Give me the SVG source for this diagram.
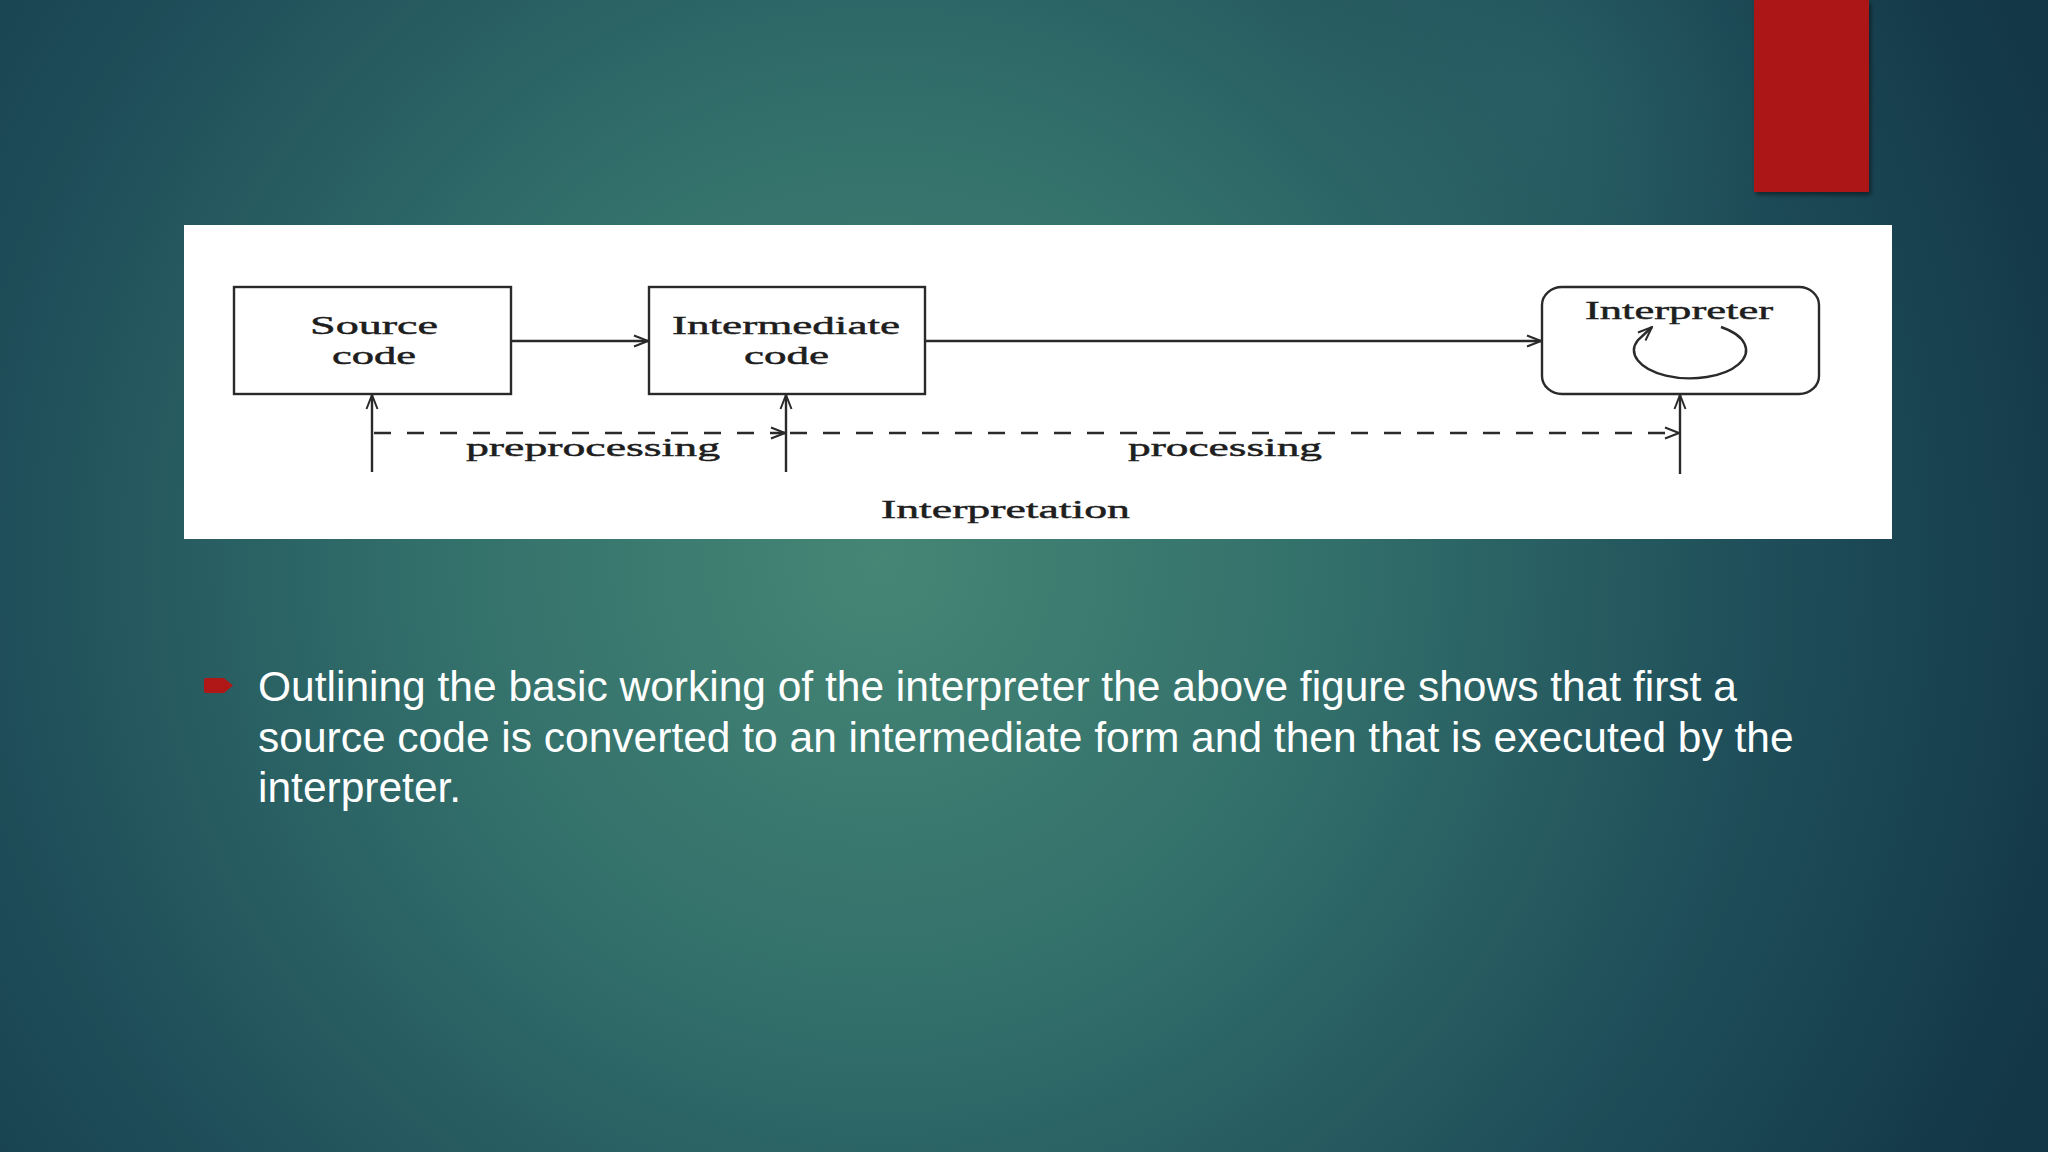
<svg xmlns="http://www.w3.org/2000/svg" width="2048" height="1152" viewBox="0 0 2048 1152">
  <defs>
    <radialGradient id="bg" cx="880" cy="560" r="1250" gradientUnits="userSpaceOnUse">
      <stop offset="0" stop-color="#458675"/>
      <stop offset="0.35" stop-color="#33706b"/>
      <stop offset="0.7" stop-color="#1f4f5a"/>
      <stop offset="1" stop-color="#133747"/>
    </radialGradient>
    <radialGradient id="glow" cx="1540" cy="90" r="260" gradientUnits="userSpaceOnUse">
      <stop offset="0" stop-color="#2f6a6c" stop-opacity="0.45"/>
      <stop offset="1" stop-color="#2f6a6c" stop-opacity="0"/>
    </radialGradient>
    <filter id="shadow" x="-20%" y="-10%" width="140%" height="130%">
      <feDropShadow dx="2" dy="3" stdDeviation="2" flood-color="#000" flood-opacity="0.45"/>
    </filter>
    <marker id="arr" markerWidth="16" markerHeight="14" refX="15" refY="7" orient="auto" markerUnits="userSpaceOnUse">
      <path d="M1,1.5 L15,7 L1,12.5" fill="none" stroke="#2a2a2a" stroke-width="2"/>
    </marker>
  </defs>
  <style>
    .box { fill: #ffffff; stroke: #2a2a2a; stroke-width: 2.4; }
    .lbl { font-family: "Liberation Serif", "Times New Roman", serif; font-size: 25px; fill: #1e1e1e; stroke: #1e1e1e; stroke-width: 0.45; }
    .edge { fill: none; stroke: #2a2a2a; stroke-width: 2.4; }
    .dash { stroke-dasharray: 17 16; }
    .body { font-family: "Liberation Sans", Arial, sans-serif; font-size: 42.5px; fill: #ffffff; }
  </style>

  <rect x="0" y="0" width="2048" height="1152" fill="url(#bg)"/>
  <rect x="0" y="0" width="2048" height="1152" fill="url(#glow)"/>

  <rect id="red-bar" x="1754" y="0" width="115" height="192" fill="#ad1616" filter="url(#shadow)"/>

  <rect id="panel" x="184" y="225" width="1708" height="314" fill="#ffffff"/>

  <g id="source-code">
    <rect class="box" x="234" y="287" width="277" height="107"/>
    <text class="lbl" x="310" y="334" textLength="128" lengthAdjust="spacingAndGlyphs">Source</text>
    <text class="lbl" x="332" y="364" textLength="84" lengthAdjust="spacingAndGlyphs">code</text>
  </g>

  <g id="intermediate-code">
    <rect class="box" x="649" y="287" width="276" height="107"/>
    <text class="lbl" x="672" y="334" textLength="228" lengthAdjust="spacingAndGlyphs">Intermediate</text>
    <text class="lbl" x="744" y="364" textLength="85" lengthAdjust="spacingAndGlyphs">code</text>
  </g>

  <g id="interpreter">
    <rect class="box" x="1542" y="287" width="277" height="107" rx="20" ry="18"/>
    <text class="lbl" x="1585" y="319" textLength="188" lengthAdjust="spacingAndGlyphs">Interpreter</text>
    <path class="edge" d="M1721,327 A56,28 0 1 1 1638,340 L1652,327" marker-end="url(#arr)"/>
  </g>

  <g id="connectors">
    <line class="edge" x1="511" y1="341" x2="648" y2="341" marker-end="url(#arr)"/>
    <line class="edge" x1="925" y1="341" x2="1541" y2="341" marker-end="url(#arr)"/>
    <line class="edge" x1="372" y1="472" x2="372" y2="395" marker-end="url(#arr)"/>
    <line class="edge" x1="786" y1="472" x2="786" y2="395" marker-end="url(#arr)"/>
    <line class="edge" x1="1680" y1="474" x2="1680" y2="395" marker-end="url(#arr)"/>
    <line class="edge dash" x1="374" y1="433" x2="785" y2="433" marker-end="url(#arr)"/>
    <line class="edge dash" x1="790" y1="433" x2="1679" y2="433" marker-end="url(#arr)"/>
  </g>

  <g id="labels">
    <text class="lbl" x="466" y="456" textLength="254" lengthAdjust="spacingAndGlyphs">preprocessing</text>
    <text class="lbl" x="1128" y="456" textLength="194" lengthAdjust="spacingAndGlyphs">processing</text>
    <text class="lbl" x="881" y="518" textLength="249" lengthAdjust="spacingAndGlyphs">Interpretation</text>
  </g>

  <g id="bullet-text">
    <path d="M206,678 L224,678 L233,685.5 L224,693 L206,693 Q204,693 204,691 L204,680 Q204,678 206,678 Z" fill="#b01818"/>
    <text class="body" x="258" y="701">Outlining the basic working of the interpreter the above figure shows that first a</text>
    <text class="body" x="258" y="752">source code is converted to an intermediate form and then that is executed by the</text>
    <text class="body" x="258" y="802">interpreter.</text>
  </g>
</svg>
